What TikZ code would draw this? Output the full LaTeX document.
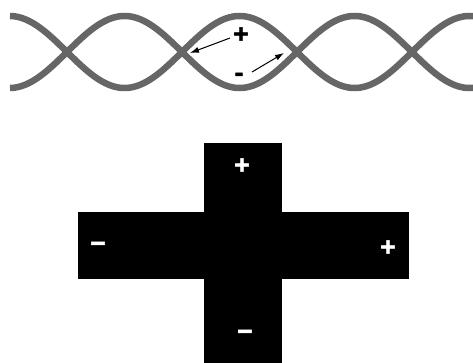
\documentclass[tikz,border=0pt]{standalone}
\usepackage{fontspec}
\newfontfamily\lblfont[FakeBold=2]{Liberation Sans Bold}
\usetikzlibrary{arrows.meta}
\begin{document}
\begin{tikzpicture}[x=1pt,y=-1pt,
  wave/.style={draw=black!60,line width=6.5pt},
  pointer/.style={draw=black,line width=1pt,-{Latex[length=9pt,width=6pt]}},
  sign/.style={font=\lblfont\fontsize{26}{26}\selectfont,inner sep=0pt},
  wsign/.style={sign,text=white},
  bar/.style={fill=black}]
\useasboundingbox (0,0) rectangle (473,363);
% waves
\draw[wave] plot[domain=10:473,samples=240] (\x,{52-36*sin((\x-67)/115*180)});
\draw[wave] plot[domain=10:473,samples=240] (\x,{52+36*sin((\x-67)/115*180)});
\coordinate (n1) at (190,53);
\coordinate (n2) at (284,53);
\node[sign] (p1) at (241,35) {+};
\node[sign] (m1) at (239,77) {-};
\coordinate (p1s) at (230,38);
\draw[pointer] (p1s) -- (n1);
\coordinate (m1s) at (252,72);
\draw[pointer] (m1s) -- (n2);
% cross
\fill[bar] (204,143) rectangle (282,363);
\fill[bar] (78,212) rectangle (409,279);
\node[wsign] (pt) at (242,166) {+};
\node[wsign] (ml) at (98,247) {−};
\node[wsign] (pr) at (388,248) {+};
\node[wsign] (mb) at (245,335) {−};
\end{tikzpicture}
\end{document}
